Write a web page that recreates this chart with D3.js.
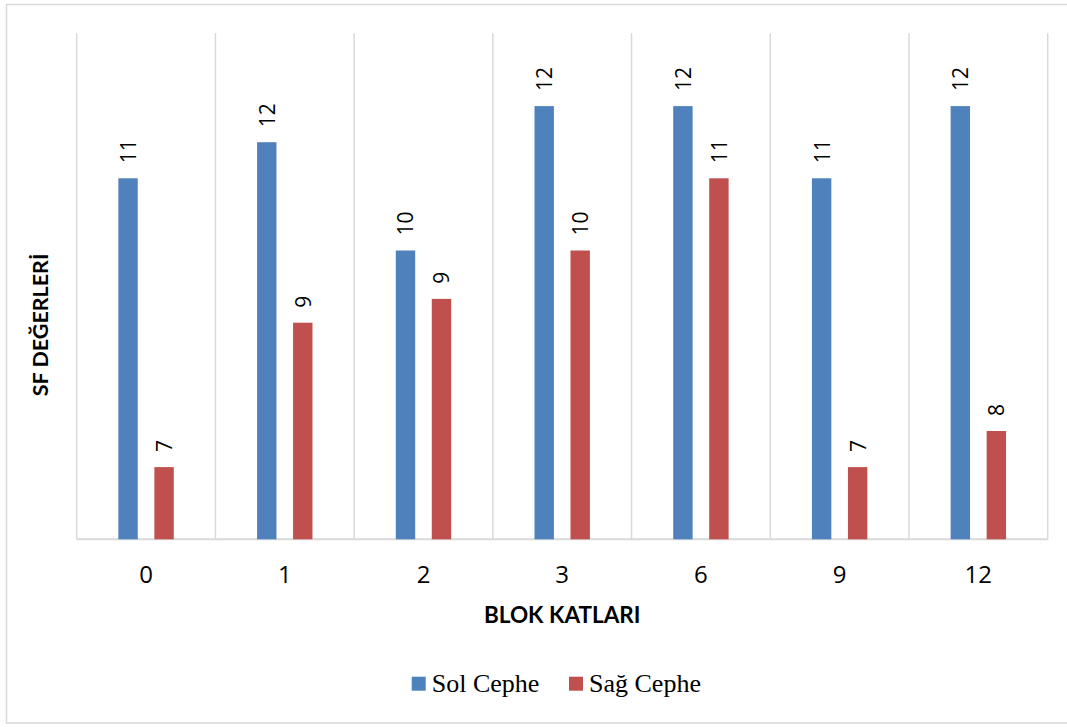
<!DOCTYPE html>
<html>
<head>
<meta charset="utf-8">
<script src="https://cdn.jsdelivr.net/npm/d3@7"></script>
<style>
  html, body { margin: 0; padding: 0; background: #fff; }
  svg { display: block; }
</style>
</head>
<body>
<svg id="chart" width="1067" height="727"></svg>
<script>
// Floors of the block and SF values for the left and right facades
const categories = ["0", "1", "2", "3", "6", "9", "12"];
const seriesNames = ["Sol Cephe", "Sağ Cephe"];
const solCephe = [11, 11.5, 10, 12, 12, 11, 12];
const sagCephe = [7, 9, 9.33, 10, 11, 7, 7.5];
const colors = ["#4f81bd", "#c0504d"];
const yDomain = [6, 13];

const rows = categories.map((c, i) => ({ cat: c, values: [solCephe[i], sagCephe[i]] }));

const svg = d3.select("#chart");
const margin = { left: 76.7, right: 1047.7, top: 33.9, bottom: 539.3 };
const gridColor = "#d9d9d9";
const numFont = "'Open Sans', Lato, sans-serif";
const titleFont = "Lato, 'Open Sans', sans-serif";

// outer chart frame
svg.append("rect")
  .attr("x", 6.5).attr("y", 4.5)
  .attr("width", 1070).attr("height", 718.5)
  .attr("fill", "#fff").attr("stroke", gridColor).attr("stroke-width", 1.5);

const x0 = d3.scaleBand().domain(categories).range([margin.left, margin.right]).padding(0);
const x1 = d3.scaleBand().domain(d3.range(seriesNames.length))
  .range([-27.7, 27.7]).paddingInner(0.461).paddingOuter(0);
const y = d3.scaleLinear().domain(yDomain).range([margin.bottom, margin.top]);

// vertical category separators
const bounds = categories.map(c => x0(c)).concat([margin.right]);
svg.append("g").selectAll("line").data(bounds).join("line")
  .attr("x1", d => d).attr("x2", d => d)
  .attr("y1", y(yDomain[1]) - 0.6).attr("y2", y(yDomain[0]))
  .attr("stroke", gridColor).attr("stroke-width", 1.5);

// category axis along the bottom
const xAxis = svg.append("g")
  .attr("transform", `translate(0,${y(yDomain[0])})`)
  .call(d3.axisBottom(x0).tickSize(0).tickPadding(0));
xAxis.select(".domain")
  .attr("d", `M${margin.left},0H${margin.right}`)
  .attr("stroke", gridColor).attr("stroke-width", 2);
xAxis.selectAll("text")
  .attr("y", 44)
  .attr("dy", null)
  .attr("font-family", numFont)
  .attr("font-size", 24)
  .attr("fill", "#000");

// bars
const groups = svg.append("g").selectAll("g").data(rows).join("g")
  .attr("transform", d => `translate(${x0(d.cat) + x0.bandwidth() / 2},0)`);

groups.selectAll("rect").data(d => d.values.map((v, i) => ({ v, i }))).join("rect")
  .attr("x", d => x1(d.i))
  .attr("width", x1.bandwidth())
  .attr("y", d => y(d.v))
  .attr("height", d => y(yDomain[0]) - y(d.v))
  .attr("fill", d => colors[d.i]);

// value labels, rotated above each bar
const fmt = d3.format(".0f");
groups.selectAll("text.val").data(d => d.values.map((v, i) => ({ v, i }))).join("text")
  .attr("class", "val")
  .attr("transform", d => `translate(${x1(d.i) + x1.bandwidth() / 2},${y(d.v) - 15}) rotate(-90)`)
  .attr("dominant-baseline", "central")
  .attr("font-family", numFont)
  .attr("font-size", 21)
  .attr("fill", "#000")
  .text(d => fmt(d.v));

// axis titles
svg.append("text")
  .attr("x", (margin.left + margin.right) / 2).attr("y", 623)
  .attr("text-anchor", "middle")
  .attr("font-family", titleFont)
  .attr("font-weight", "bold").attr("font-size", 22.5)
  .attr("fill", "#000")
  .text("BLOK KATLARI");

svg.append("text")
  .attr("transform", "translate(40,325) rotate(-90)")
  .attr("text-anchor", "middle")
  .attr("dominant-baseline", "central")
  .attr("font-family", titleFont)
  .attr("font-weight", "bold").attr("font-size", 21.5)
  .attr("fill", "#000")
  .text("SF DEĞERLERİ");

// legend
const legendX = [411.7, 569];
const legend = svg.append("g").selectAll("g").data(seriesNames).join("g")
  .attr("transform", (d, i) => `translate(${legendX[i]},676.7)`);
legend.append("rect")
  .attr("width", 14).attr("height", 14)
  .attr("fill", (d, i) => colors[i]);
legend.append("text")
  .attr("x", 20).attr("y", 15)
  .attr("font-family", "'Liberation Serif', 'Times New Roman', serif")
  .attr("font-size", 26)
  .attr("fill", "#000")
  .text(d => d);
</script>
</body>
</html>
